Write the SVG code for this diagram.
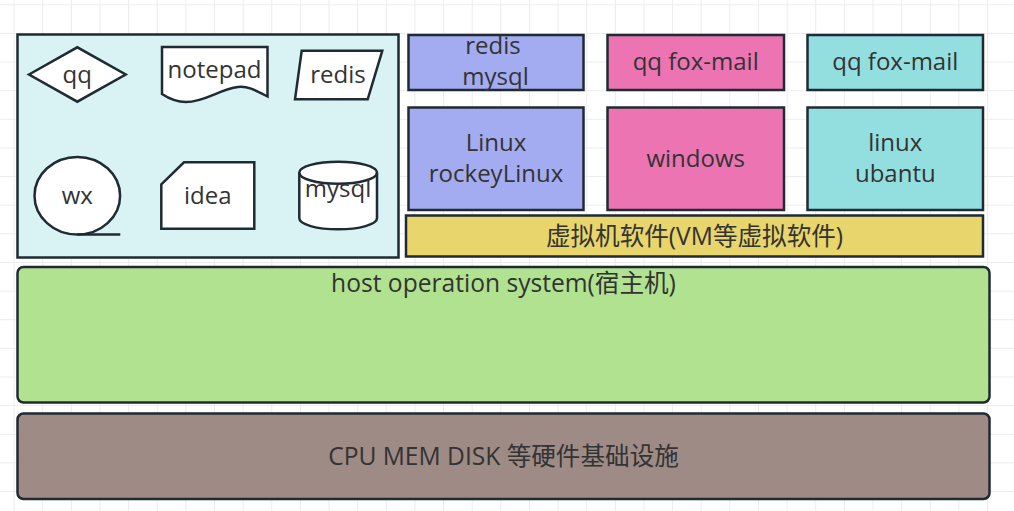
<svg xmlns="http://www.w3.org/2000/svg" width="1014" height="511" viewBox="0 0 1014 511">
<defs>
<pattern id="grid" patternUnits="userSpaceOnUse" x="13.6" y="4.3" width="28.63" height="28.63">
<path d="M0,0.5 H28.63 M0.5,0 V28.63" fill="none" stroke="#ececec" stroke-width="1"/>
</pattern>
<style>
.s{stroke:#1f2a33;stroke-width:2.5;stroke-linejoin:miter}
.w{fill:#ffffff}
.t{font-family:"Open Sans","Noto Sans CJK SC",sans-serif;font-size:24px;fill:#333333;text-anchor:middle}
.l{font-size:24.6px}
</style>
</defs>
<rect x="0" y="0" width="1014" height="511" fill="#ffffff"/>
<rect x="0" y="0" width="1014" height="511" fill="url(#grid)"/>

<g id="desktop-panel">
<rect class="s" x="17.5" y="34.5" width="381" height="223" fill="#d9f3f4"/>
</g>

<g id="qq">
<polygon class="s w" points="29,74.5 77.3,47.3 125.7,74.5 77.3,101.7"/>
<text class="t" x="77.3" y="83">qq</text>
</g>

<g id="notepad">
<path class="s w" d="M162,47 H267.5 V96.5 C255,90 248,86 238,87 C220,89 205,102 186,102 C175,102 168,98 162,94 Z"/>
<text class="t" x="214.5" y="78">notepad</text>
</g>

<g id="redis-shape">
<polygon class="s w" points="301.7,50.7 382.3,50.7 367.7,99.3 295,99.3"/>
<text class="t" x="338" y="83">redis</text>
</g>

<g id="wx">
<ellipse class="s w" cx="77.3" cy="195.7" rx="42.8" ry="38.8"/>
<line class="s" x1="77.3" y1="234.5" x2="120.3" y2="234.5"/>
<text class="t" x="77.3" y="204">wx</text>
</g>

<g id="idea">
<path class="s w" d="M161.3,184.3 L184,162.3 H254.3 V228.7 H161.3 Z"/>
<text class="t" x="207.7" y="204">idea</text>
</g>

<g id="mysql-shape">
<path class="s w" d="M299.3,172.7 A38.85,11 0 0 1 377,172.7 V218.3 A38.85,11 0 0 1 299.3,218.3 Z"/>
<path class="s" fill="none" d="M299.3,172.7 A38.85,11 0 0 0 377,172.7"/>
<text class="t" x="338" y="197">mysql</text>
</g>

<g id="vm1-apps">
<rect class="s" x="408.5" y="35" width="175" height="55" fill="#a3acf0"/>
<text class="t" x="493" y="54">redis</text>
<text class="t" x="495.5" y="85">mysql</text>
</g>

<g id="vm2-apps">
<rect class="s" x="607.5" y="35" width="176.5" height="55" fill="#ec74b3"/>
<text class="t" x="695.7" y="70">qq fox-mail</text>
</g>

<g id="vm3-apps">
<rect class="s" x="807.5" y="35" width="175.5" height="55" fill="#93dfe0"/>
<text class="t" x="895.3" y="70">qq fox-mail</text>
</g>

<g id="vm1-os">
<rect class="s" x="408.5" y="107.5" width="175" height="102.5" fill="#a3acf0"/>
<text class="t" x="496" y="151">Linux</text>
<text class="t" x="496" y="181.5">rockeyLinux</text>
</g>

<g id="vm2-os">
<rect class="s" x="607.5" y="107.5" width="176.5" height="102.5" fill="#ec74b3"/>
<text class="t" x="695.7" y="167">windows</text>
</g>

<g id="vm3-os">
<rect class="s" x="807.5" y="107.5" width="175.5" height="102.5" fill="#93dfe0"/>
<text class="t" x="895.3" y="151">linux</text>
<text class="t" x="895.3" y="181.5">ubantu</text>
</g>

<g id="hypervisor">
<rect class="s" x="406" y="215.5" width="577" height="41" fill="#e8d56b"/>
<text class="t l" x="694.5" y="245">虚拟机软件(VM等虚拟软件)</text>
</g>

<g id="host-os">
<rect class="s" x="17.5" y="267" width="972" height="135.5" rx="6" ry="6" fill="#b0e290"/>
<text class="t l" x="503.5" y="292">host operation system(宿主机)</text>
</g>

<g id="hardware">
<rect class="s" x="17.5" y="413.5" width="972" height="85.5" rx="6" ry="6" fill="#9e8b86"/>
<text class="t l" x="503.5" y="465">CPU MEM DISK 等硬件基础设施</text>
</g>

<g id="connectors"></g>
</svg>
